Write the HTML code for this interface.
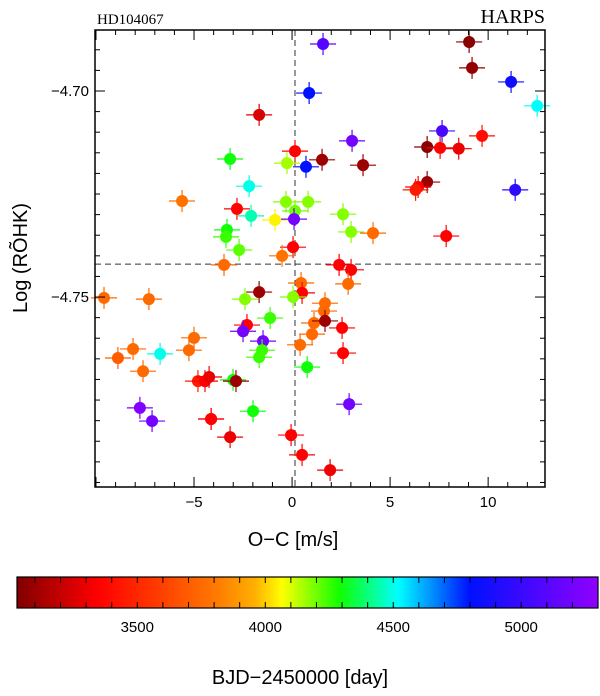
<!DOCTYPE html>
<html><head><meta charset="utf-8"><style>
body{margin:0;background:#fff;}
svg text{font-family:"Liberation Sans",sans-serif;}
</style></head><body>
<svg id="chart" width="600" height="691" xmlns="http://www.w3.org/2000/svg">
<defs>
<linearGradient id="cmap" x1="0" x2="1" y1="0" y2="0">
<stop offset="0" stop-color="#800000"/><stop offset="0.07" stop-color="#c00000"/>
<stop offset="0.14" stop-color="#ff0000"/><stop offset="0.25" stop-color="#ff4000"/>
<stop offset="0.34" stop-color="#ff7800"/><stop offset="0.41" stop-color="#ffb000"/>
<stop offset="0.456" stop-color="#ffff00"/><stop offset="0.555" stop-color="#10ff00"/>
<stop offset="0.656" stop-color="#00ffff"/><stop offset="0.78" stop-color="#0010ff"/>
<stop offset="1" stop-color="#9000ff"/>
</linearGradient>
</defs>
<g id="plot"></g>
</svg>
<script>
const ocValues=[1.58,9.03,9.18,11.17,12.5,0.87,-1.68,7.65,9.69,3.06,0.15,-3.16,-0.26,1.53,0.71,3.62,6.89,7.55,8.5,6.89,6.43,6.3,11.38,-2.19,-5.61,-2.81,-2.09,-0.87,-0.31,0.82,0.15,0.1,2.6,-3.32,-3.37,3.01,4.13,7.86,-2.7,0.05,-0.51,-3.47,2.4,3.01,2.86,0.46,-1.68,0.51,-9.59,-7.3,-2.4,0.05,1.68,1.63,-1.12,1.12,1.68,-2.3,-5,1.02,-2.5,2.55,-1.48,-1.53,-1.68,0.41,-8.88,-8.11,-6.73,-5.26,0.77,2.6,-7.6,-4.8,-4.44,-4.23,-4.13,-3.01,-2.86,2.91,-7.76,-7.14,-4.13,-1.99,-3.16,-0.05,0.51,1.94];
const rhkValues=[-4.6886,-4.6881,-4.6944,-4.6978,-4.7036,-4.7005,-4.7058,-4.7097,-4.7109,-4.7121,-4.7146,-4.7165,-4.7175,-4.7167,-4.7184,-4.718,-4.7136,-4.7138,-4.714,-4.7221,-4.7233,-4.724,-4.724,-4.7231,-4.7267,-4.7286,-4.7303,-4.7313,-4.7269,-4.7269,-4.7291,-4.7311,-4.7299,-4.7337,-4.7354,-4.7342,-4.7345,-4.7352,-4.7386,-4.7379,-4.74,-4.7422,-4.7422,-4.7434,-4.7468,-4.7466,-4.7488,-4.749,-4.7502,-4.7505,-4.7505,-4.75,-4.7515,-4.7534,-4.7551,-4.7563,-4.7558,-4.7568,-4.7599,-4.759,-4.7583,-4.7575,-4.7607,-4.7629,-4.7646,-4.7616,-4.7648,-4.7626,-4.7638,-4.7629,-4.767,-4.7636,-4.768,-4.7704,-4.7704,-4.7694,-4.7796,-4.7701,-4.7704,-4.776,-4.7769,-4.7801,-4.7796,-4.7777,-4.784,-4.7835,-4.7883,-4.792];
const bjdValues=[5100,3050,3080,4850,4520,4800,3250,5050,3400,5200,3350,4300,4150,3100,4800,3100,3050,3350,3300,3100,3350,3450,4950,4500,3780,3350,4450,4050,4180,4180,4200,5200,4180,4300,4250,4180,3750,3350,4220,3350,3780,3750,3350,3350,3750,3750,3100,3350,3750,3750,4180,4180,3750,3750,4250,3750,3100,3350,3750,3750,5200,3350,5200,4250,4250,3750,3700,3750,4500,3750,4300,3350,3750,3450,3350,3300,3350,4300,3100,5200,5250,5200,3350,4300,3300,3350,3350,3300];
const xTicks=[-5,0,5,10];
const yTicks=[-4.70,-4.75];
const cTicks=[3500,4000,4500,5000];
const ocLine=0.15, rhkLine=-4.742;
const X0=95,X1=545,Y0=30,Y1=487;
const xMin=-10.05,xMax=12.9,yMax=-4.6852,yMin=-4.7961;
const cMin=3030,cMax=5300,CB0=17,CB1=598;
const sx=v=>X0+(v-xMin)/(xMax-xMin)*(X1-X0);
const sy=v=>Y0+(yMax-v)/(yMax-yMin)*(Y1-Y0);
const sc=v=>CB0+(v-cMin)/(cMax-cMin)*(CB1-CB0);
const stops=[[0,[128,0,0]],[0.07,[192,0,0]],[0.14,[255,0,0]],[0.25,[255,64,0]],[0.34,[255,120,0]],[0.41,[255,176,0]],[0.456,[255,255,0]],[0.555,[16,255,0]],[0.656,[0,255,255]],[0.78,[0,16,255]],[1,[144,0,255]]];
function cmap(v){let t=Math.max(0,Math.min(1,(v-cMin)/(cMax-cMin)));for(let i=1;i<stops.length;i++){if(t<=stops[i][0]){const a=stops[i-1],b=stops[i];const f=(t-a[0])/(b[0]-a[0]);return 'rgb('+a[1].map((c,k)=>Math.round(c+f*(b[1][k]-c))).join(',')+')';}}return 'rgb(144,0,255)';}
const NS='http://www.w3.org/2000/svg';
const g=document.getElementById('plot');
function el(t,a,p){const e=document.createElementNS(NS,t);for(const k in a)e.setAttribute(k,a[k]);(p||g).appendChild(e);return e;}
let d1=el('line',{x1:sx(ocLine),x2:sx(ocLine),y1:Y0,y2:Y1,stroke:'#333','stroke-dasharray':'6,4','stroke-width':1});


let d2=el('line',{x1:X0,x2:X1,y1:sy(rhkLine),y2:sy(rhkLine),stroke:'#333','stroke-dasharray':'6,4','stroke-width':1});


for(let i=0;i<ocValues.length;i++){
 const c=cmap(bjdValues[i]),x=sx(ocValues[i]),y=sy(rhkValues[i]);
 const pg=el('g',{});
 
 
 el('line',{x1:x-13,x2:x+13,y1:y,y2:y,stroke:c,'stroke-width':1.2},pg);
 el('line',{x1:x,x2:x,y1:y-11,y2:y+11,stroke:c,'stroke-width':1.2},pg);
 el('circle',{cx:x,cy:y,r:6,fill:c},pg);
}
const fr=el('rect',{x:X0,y:Y0,width:X1-X0,height:Y1-Y0,fill:'none',stroke:'#000','stroke-width':1.5});


for(let v=-10;v<=12;v++){const x=sx(v),L=(v%5===0)?10:5;
 el('line',{x1:x,x2:x,y1:Y1,y2:Y1-L,stroke:'#000'});el('line',{x1:x,x2:x,y1:Y0,y2:Y0+L,stroke:'#000'});}
for(let k=0;k<=22;k++){const v=-4.69-k*0.005;if(v<yMin)break;const y=sy(v);const L=(Math.abs(Math.round(v*1000))%50===0)?10:5;
 el('line',{x1:X0,x2:X0+L,y1:y,y2:y,stroke:'#000'});el('line',{x1:X1,x2:X1-L,y1:y,y2:y,stroke:'#000'});}
xTicks.forEach(v=>{const t=el('text',{x:sx(v),y:Y1+20,'text-anchor':'middle','font-size':15});t.textContent=(v<0?'\u2212'+(-v):v);
 
 });
yTicks.forEach(v=>{const t=el('text',{x:X0-6,y:sy(v)+5,'text-anchor':'end','font-size':15});t.textContent='\u2212'+(-v).toFixed(2);
 
 });
let t;
t=el('text',{x:sx(ocLine)-2,y:546,'text-anchor':'middle','font-size':20});t.textContent='O\u2212C [m/s]';


t=el('text',{x:0,y:0,'text-anchor':'middle','font-size':20,transform:'translate(27,258) rotate(-90)'});t.textContent='Log (RÕHK)';


t=el('text',{x:97,y:24,'font-size':15,style:'font-family:"Liberation Serif",serif'});t.textContent='HD104067';


t=el('text',{x:545,y:23,'text-anchor':'end','font-size':20,style:'font-family:"Liberation Serif",serif'});t.textContent='HARPS';


const cb=el('rect',{x:CB0,y:577,width:CB1-CB0,height:31,fill:'url(#cmap)',stroke:'#000','stroke-width':1.2});


for(let v=3100;v<=5300;v+=100){const x=sc(v);el('line',{x1:x,x2:x,y1:577,y2:583,stroke:'#000'});el('line',{x1:x,x2:x,y1:608,y2:602,stroke:'#000'});}
cTicks.forEach(v=>{const tt=el('text',{x:sc(v),y:632,'text-anchor':'middle','font-size':15});tt.textContent=v;
 
 });
t=el('text',{x:300,y:684,'text-anchor':'middle','font-size':20});t.textContent='BJD\u22122450000 [day]';


</script>
</body></html>
